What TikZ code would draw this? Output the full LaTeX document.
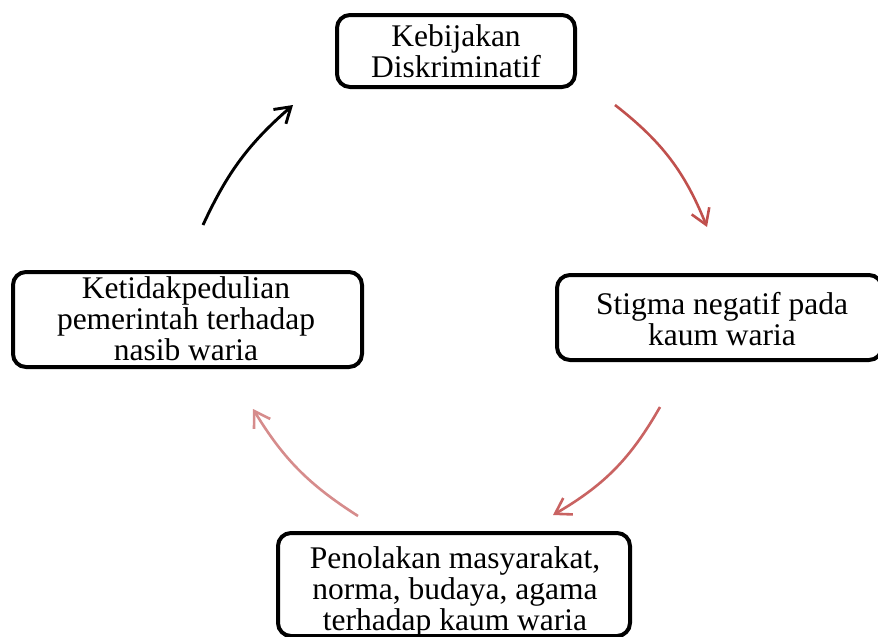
\documentclass[tikz,border=0pt]{standalone}
\usepackage{fontspec}
\setmainfont{Liberation Serif}
\usetikzlibrary{arrows.meta}
\definecolor{redA}{HTML}{C0504D}
\definecolor{redB}{HTML}{C96362}
\definecolor{redC}{HTML}{D68C8C}
\begin{document}
\begin{tikzpicture}[x=1pt,y=-1pt,
  box/.style={draw, line width=4pt, rounded corners=13pt, inner sep=0pt},
  lbl/.style={align=center, font=\fontsize{31.5}{31}\selectfont, inner sep=0pt, anchor=base},
  arr/.style={line width=2.6pt, -{Straight Barb[length=15pt,width=19pt]}}]
\useasboundingbox (0,0) rectangle (878,637);
% boxes
\node[box, minimum width=238pt, minimum height=72pt] (kb) at (456,51) {};
\node[box, minimum width=325pt, minimum height=85pt] (sn) at (719.5,317.5) {};
\node[box, minimum width=352pt, minimum height=103pt] (pm) at (454,584.5) {};
\node[box, minimum width=349pt, minimum height=95pt] (kp) at (187.5,319.5) {};
% labels (anchored at the baseline of the last line)
\node[lbl] (kbt) at (456,77) {Kebijakan\\Diskriminatif};
\node[lbl] (snt) at (722,345) {Stigma negatif pada\\kaum waria};
\node[lbl] (pmt) at (455,630) {Penolakan masyarakat,\\norma, budaya, agama\\terhadap kaum waria};
\node[lbl] (kpt) at (186,360) {Ketidakpedulian\\pemerintah terhadap\\nasib waria};
% connector ends
\coordinate (a1s) at (615,105);
\coordinate (a1e) at (707,227);
\coordinate (a2s) at (660,407);
\coordinate (a2e) at (553,515);
\coordinate (a3s) at (358,516);
\coordinate (a3e) at (253,409);
\coordinate (a4s) at (203,225);
\coordinate (a4e) at (293,105);
% arrows
\draw[arr, redA] (a1s) to[bend left=15] (a1e);
\draw[arr, redB] (a2s) to[bend left=15] (a2e);
\draw[arr, redC] (a3s) to[bend left=13] (a3e);
\draw[arr, black, line width=2.9pt] (a4s) to[bend left=12] (a4e);
\end{tikzpicture}
\end{document}
